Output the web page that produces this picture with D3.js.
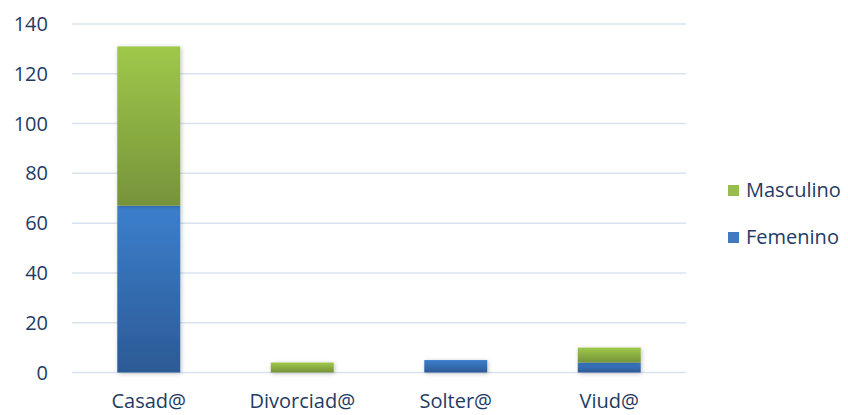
<!DOCTYPE html>
<html>
<head>
<meta charset="utf-8">
<script src="https://cdn.jsdelivr.net/npm/d3@7"></script>
<style>
  body { margin: 0; background: #fff; }
  text { font-family: "Open Sans", "Noto Sans", sans-serif; fill: #1f3b64; }
</style>
</head>
<body>
<div id="vis"></div>
<script>
// data
var categories = ["Casad@", "Divorciad@", "Solter@", "Viud@"];
var femenino = [67, 0, 5, 4];
var masculino = [64, 4, 0, 6];
var yTicks = [0, 20, 40, 60, 80, 100, 120, 140];

var width = 848, height = 415;
var margin = { top: 24, left: 72, bottom: 42.5, right: 162 };
var fontSize = 20;

var svg = d3.select('#vis').append('svg')
  .attr('width', width)
  .attr('height', height);

var defs = svg.append('defs');
function grad(id, top, bottom) {
  var lg = defs.append('linearGradient').attr('id', id)
    .attr('x1', 0).attr('y1', 0).attr('x2', 0).attr('y2', 1);
  lg.append('stop').attr('offset', '0%').attr('stop-color', top);
  lg.append('stop').attr('offset', '100%').attr('stop-color', bottom);
}
grad('gFem', '#3c7fcd', '#2c5a95');
grad('gMas', '#9fc84a', '#76933a');

var shadow = defs.append('filter').attr('id', 'shadow')
  .attr('x', '-20%').attr('y', '-20%').attr('width', '140%').attr('height', '140%');
shadow.append('feDropShadow').attr('dx', 1).attr('dy', 1)
  .attr('stdDeviation', 2).attr('flood-color', '#000').attr('flood-opacity', 0.25);

var x = d3.scaleBand()
  .domain(categories)
  .range([margin.left, width - margin.right])
  .padding(0);

var y = d3.scaleLinear()
  .domain([0, 140])
  .range([height - margin.bottom, margin.top]);

// gridlines
svg.append('g').selectAll('line')
  .data(yTicks)
  .enter().append('line')
  .attr('x1', margin.left)
  .attr('x2', width - margin.right)
  .attr('y1', function(d) { return y(d); })
  .attr('y2', function(d) { return y(d); })
  .attr('stroke', '#d9e3f0')
  .attr('stroke-width', 1.5);

// y tick labels
svg.append('g').selectAll('text')
  .data(yTicks)
  .enter().append('text')
  .attr('x', 48)
  .attr('y', function(d) { return y(d); })
  .attr('dy', '0.35em')
  .attr('text-anchor', 'end')
  .attr('font-size', fontSize)
  .text(function(d) { return d; });

// stacked bars
var rows = categories.map(function(c, i) {
  return { cat: c, Femenino: femenino[i], Masculino: masculino[i] };
});
var stack = d3.stack().keys(['Femenino', 'Masculino'])(rows);
var fills = { Femenino: 'url(#gFem)', Masculino: 'url(#gMas)' };
var barW = x.bandwidth() * 0.41;

svg.append('g').selectAll('g')
  .data(stack)
  .enter().append('g')
  .attr('fill', function(s) { return fills[s.key]; })
  .attr('filter', 'url(#shadow)')
  .selectAll('rect')
  .data(function(s) { return s.filter(function(d) { return d[1] > d[0]; }); })
  .enter().append('rect')
  .attr('x', function(d) { return x(d.data.cat) + (x.bandwidth() - barW) / 2; })
  .attr('y', function(d) { return y(d[1]); })
  .attr('width', barW)
  .attr('height', function(d) { return y(d[0]) - y(d[1]); });

// category labels
svg.append('g').selectAll('text')
  .data(categories)
  .enter().append('text')
  .attr('x', function(d) { return x(d) + x.bandwidth() / 2; })
  .attr('y', 401)
  .attr('dy', '0.35em')
  .attr('text-anchor', 'middle')
  .attr('font-size', fontSize)
  .text(function(d) { return d; });

// legend
var legend = [
  { name: 'Masculino', color: '#97bd4f', y: 190 },
  { name: 'Femenino', color: '#4279bf', y: 237 }
];
var lg = svg.append('g').selectAll('g')
  .data(legend)
  .enter().append('g');
lg.append('rect')
  .attr('x', 728)
  .attr('y', function(d) { return d.y - 5; })
  .attr('width', 11)
  .attr('height', 11)
  .attr('fill', function(d) { return d.color; });
lg.append('text')
  .attr('x', 746)
  .attr('y', function(d) { return d.y; })
  .attr('dy', '0.35em')
  .attr('font-size', fontSize)
  .text(function(d) { return d.name; });
</script>
</body>
</html>
